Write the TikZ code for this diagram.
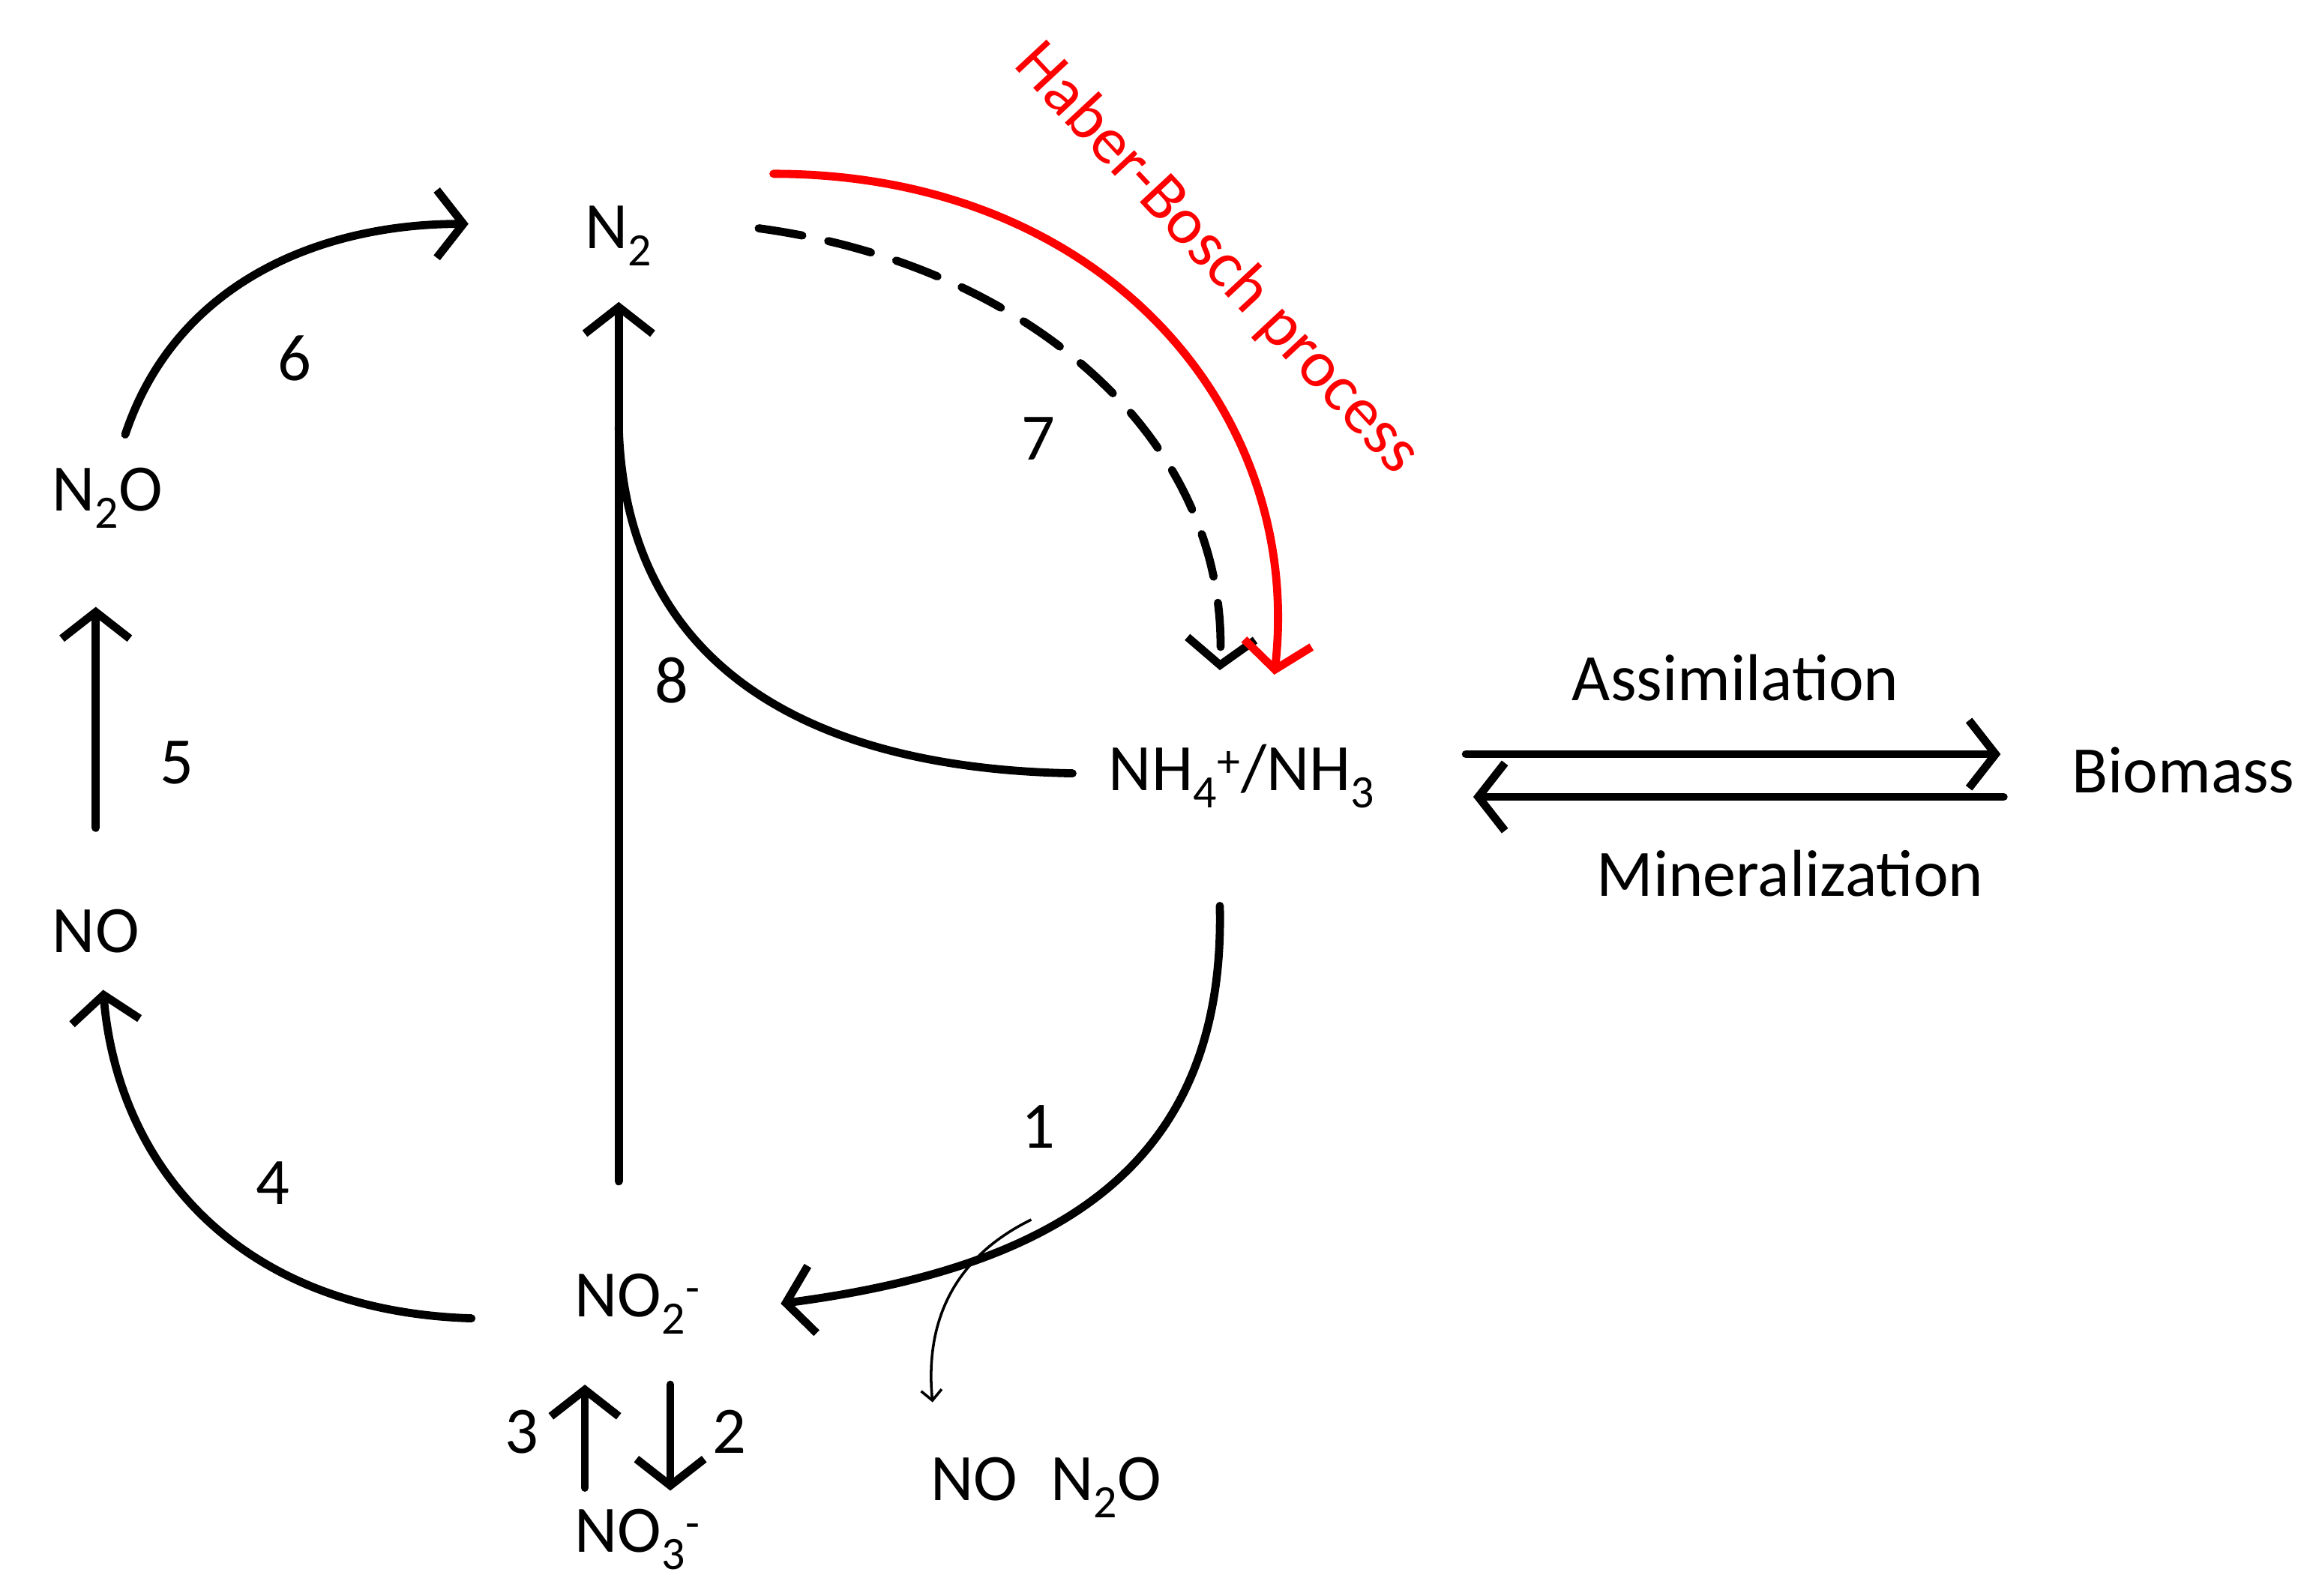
\documentclass[tikz,border=0pt]{standalone}
\usepackage{fontspec}
\setmainfont{Carlito}
\usetikzlibrary{arrows.meta}
\begin{document}
\begin{tikzpicture}[x=1pt,y=-1pt,
  lbl/.style={font=\fontsize{45}{54}\selectfont,inner sep=0pt},
  ar/.style={line width=5.5pt,line cap=round,-{Straight Barb[length=18pt,width=46pt,line width=5.5pt]}},
  ln/.style={line width=5.5pt,line cap=round}]
\useasboundingbox (0,0) rectangle (1568,1083);
\node[lbl] (n2) at (420,160) {N\textsubscript{2}};
\node[lbl] (n2o) at (73,338) {N\textsubscript{2}O};
\node[lbl] (no) at (65,632) {NO};
\node[lbl] (nh) at (843,527) {NH\textsubscript{4}\textsuperscript{+}/NH\textsubscript{3}};
\node[lbl] (bio) at (1482,523) {Biomass};
\node[lbl] (no2) at (433,885) {NO\textsubscript{2}\textsuperscript{-}};
\node[lbl] (no3) at (433,1045) {NO\textsubscript{3}\textsuperscript{-}};
\node[lbl] (side) at (710,1010) {NO\enspace N\textsubscript{2}O};
\node[lbl] (l6) at (200,243) {6};
\node[lbl] (l5) at (120,518) {5};
\node[lbl] (l4) at (185,803) {4};
\node[lbl] (l7) at (705,298) {7};
\node[lbl] (l8) at (456,462) {8};
\node[lbl] (l1) at (705,765) {1};
\node[lbl] (l3) at (354,972) {3};
\node[lbl] (l2) at (495,972) {2};
\node[lbl] (as) at (1178,460) {Assimilation};
\node[lbl] (mi) at (1215,593) {Mineralization};
\node[lbl,red,rotate=-47] (hb) at (826,176) {Haber-Bosch process};
\coordinate (a6s) at (85,295); \coordinate (a6e) at (318,152);
\coordinate (a5s) at (65,562); \coordinate (a5e) at (65,412);
\coordinate (a4s) at (320,895); \coordinate (a4e) at (70,672);
\coordinate (vs) at (420,802); \coordinate (ve) at (420,205);
\coordinate (a8s) at (728,525); \coordinate (a8e) at (420,290);
\coordinate (a7s) at (515,155); \coordinate (a7e) at (828,455);
\coordinate (rs) at (525,118); \coordinate (re) at (865,458);
\coordinate (a1s) at (828,615); \coordinate (a1e) at (530,885);
\coordinate (bs) at (700,828); \coordinate (be) at (633,952);
\coordinate (a3s) at (397,1010); \coordinate (a3e) at (397,940);
\coordinate (a2s) at (455,940); \coordinate (a2e) at (455,1012);
\coordinate (ass) at (995,512); \coordinate (ase) at (1358,512);
\coordinate (mis) at (1360,541); \coordinate (mie) at (1000,541);
\draw[ar] (a6s) .. controls (120,190) and (220,152) .. (a6e);
\draw[ar] (a5s) -- (a5e);
\draw[ar] (a4s) .. controls (160,890) and (80,790) .. (a4e);
\draw[ar] (vs) -- (ve);
\draw[ln] (a8s) .. controls (560,522) and (425,460) .. (a8e);
\draw[ar,dash pattern=on 30pt off 18pt] (a7s) .. controls (700,180) and (835,300) .. (a7e);
\draw[ar,red] (rs) .. controls (750,118) and (885,280) .. (re);
\draw[ar] (a1s) .. controls (832,790) and (720,860) .. (a1e);
\draw[line width=1.8pt,-{Straight Barb[length=7pt,width=14pt,line width=1.8pt]}] (bs) .. controls (645,855) and (628,900) .. (be);
\draw[ar] (a3s) -- (a3e);
\draw[ar] (a2s) -- (a2e);
\draw[ar] (ass) -- (ase);
\draw[ar] (mis) -- (mie);
\end{tikzpicture}
\end{document}
